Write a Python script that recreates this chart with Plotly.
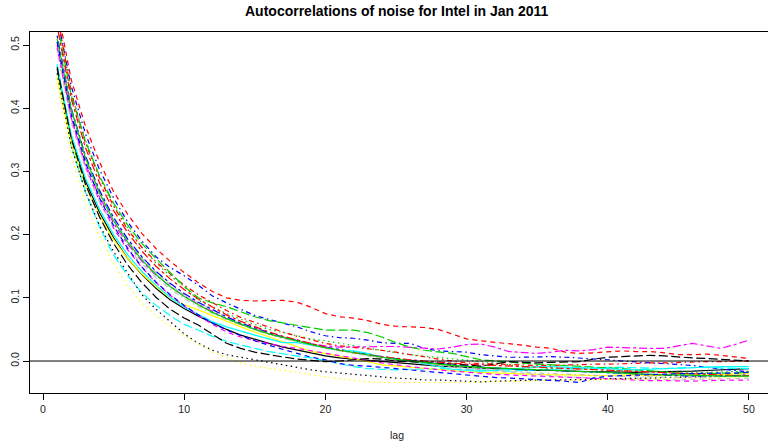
import plotly.graph_objects as go

lags = list(range(1, 51))

series_colors = ["#000000", "#FF0000", "#00CD00", "#0000FF", "#00FFFF", "#FF00FF", "#FFFF00", "#BEBEBE"]
series_dashes = ["solid", "5px,4px", "1.5px,3.5px", "1.5px,3.5px,5px,3.5px", "9px,3.5px", "3px,3px,8px,3px"]

s00 = [.462,.355,.285,.235,.195,.162,.137,.115,.097,.083,
       .071,.060,.050,.041,.034,.028,.022,.017,.012,.008,
       .005,.003,.001,-.001,-.003,-.004,-.006,-.008,-.009,-.010,
       -.012,-.013,-.013,-.014,-.015,-.015,-.016,-.016,-.017,-.017,
       -.018,-.018,-.017,-.017,-.016,-.016,-.015,-.014,-.013,-.012]
s01 = [.560,.445,.372,.315,.268,.232,.202,.178,.158,.140,
       .124,.110,.100,.096,.095,.095,.096,.093,.085,.075,
       .070,.068,.064,.058,.055,.054,.053,.050,.042,.035,
       .032,.030,.027,.025,.022,.020,.014,.012,.013,.015,
       .016,.015,.015,.013,.010,.010,.011,.009,.006,.004]
s02 = [.540,.425,.350,.292,.247,.210,.180,.155,.135,.118,
       .096,.085,.075,.066,.058,.050,.045,.040,.035,.032,
       .028,.024,.020,.016,.013,.010,.008,.006,.004,.002,
       .000,-.003,-.006,-.008,-.010,-.012,-.012,-.013,-.014,-.015,
       -.015,-.016,-.016,-.017,-.017,-.018,-.018,-.017,-.017,-.016]
s03 = [.545,.435,.360,.303,.258,.220,.190,.165,.148,.135,
       .120,.103,.092,.082,.072,.066,.060,.054,.046,.040,
       .037,.036,.033,.029,.028,.028,.020,.016,.015,.014,
       .010,.008,.006,.006,.007,.007,.006,.005,.003,.002,
       .000,-.002,-.003,-.004,-.005,-.007,-.010,-.013,-.015,-.017]
s04 = [.470,.340,.268,.212,.168,.135,.108,.088,.072,.058,
       .049,.039,.031,.025,.020,.015,.011,.008,.005,.001,
       -.004,-.009,-.012,-.013,-.014,-.013,-.012,-.012,-.013,-.014,
       -.015,-.016,-.016,-.015,-.014,-.013,-.012,-.012,-.011,-.010,
       -.010,-.011,-.011,-.012,-.011,-.010,-.010,-.011,-.012,-.012]
s05 = [.495,.385,.312,.260,.218,.185,.158,.136,.118,.103,
       .090,.078,.067,.058,.050,.043,.037,.032,.027,.024,
       .022,.022,.023,.023,.023,.022,.020,.019,.022,.026,
       .027,.022,.015,.013,.012,.014,.017,.016,.018,.022,
       .021,.020,.020,.020,.024,.028,.024,.020,.026,.033]
s06 = [.450,.345,.278,.230,.192,.162,.138,.118,.100,.089,
       .081,.072,.062,.054,.046,.038,.030,.022,.015,.012,
       .008,.004,-.001,-.006,-.008,-.009,-.012,-.014,-.015,-.017,
       -.018,-.019,-.020,-.021,-.022,-.022,-.022,-.023,-.023,-.023,
       -.022,-.022,-.023,-.023,-.022,-.022,-.022,-.021,-.021,-.020]
s07 = [.505,.395,.320,.266,.223,.190,.163,.140,.121,.105,
       .092,.080,.069,.060,.052,.045,.039,.033,.027,.022,
       .017,.012,.008,.004,.001,-.002,-.005,-.008,-.010,-.012,
       -.014,-.016,-.018,-.020,-.022,-.024,-.025,-.026,-.027,-.028,
       -.028,-.028,-.029,-.030,-.030,-.029,-.029,-.028,-.028,-.027]
s08 = [.455,.340,.268,.215,.173,.138,.105,.082,.062,.043,
       .028,.017,.010,.006,.002,-.003,-.007,-.011,-.014,-.017,
       -.019,-.021,-.024,-.025,-.027,-.028,-.030,-.030,-.031,-.032,
       -.033,-.032,-.031,-.031,-.030,-.030,-.030,-.029,-.029,-.028,
       -.028,-.027,-.027,-.026,-.026,-.025,-.025,-.024,-.024,-.023]
s09 = [.550,.425,.345,.290,.245,.208,.180,.157,.138,.120,
       .105,.092,.080,.069,.061,.054,.046,.039,.033,.028,
       .024,.022,.019,.017,.014,.010,.006,.003,.000,-.003,
       -.004,-.005,-.006,-.006,-.007,-.007,-.006,-.006,-.005,-.005,
       -.004,-.004,-.003,-.003,-.002,-.002,-.001,-.001,.000,.000]
s10 = [.535,.420,.348,.293,.250,.215,.186,.162,.140,.118,
       .100,.092,.086,.078,.070,.064,.060,.056,.052,.049,
       .049,.049,.045,.038,.029,.022,.017,.014,.012,.007,
       .002,.000,-.002,-.004,-.005,-.006,-.007,-.008,-.009,-.010,
       -.012,-.014,-.016,-.018,-.019,-.020,-.020,-.020,-.019,-.018]
s11 = [.515,.400,.325,.270,.227,.193,.165,.142,.123,.107,
       .093,.081,.070,.060,.052,.045,.038,.032,.027,.022,
       .018,.014,.010,.007,.004,.001,-.002,-.004,-.006,-.008,
       -.010,-.011,-.012,-.013,-.014,-.015,-.016,-.017,-.018,-.019,
       -.020,-.021,-.022,-.023,-.024,-.024,-.024,-.024,-.023,-.022]
s12 = [.468,.358,.290,.240,.200,.168,.142,.120,.101,.085,
       .074,.062,.054,.047,.041,.035,.029,.029,.025,.021,
       .017,.016,.012,.006,.002,.000,-.004,-.009,-.013,-.015,
       -.016,-.015,-.013,-.011,-.009,-.009,-.010,-.011,-.012,-.013,
       -.014,-.014,-.013,-.012,-.011,-.010,-.010,-.009,-.009,-.009]
s13 = [.500,.385,.308,.253,.210,.176,.148,.124,.104,.087,
       .072,.058,.046,.038,.032,.027,.023,.020,.016,.012,
       .008,.004,.000,-.003,-.006,-.009,-.012,-.014,-.016,-.018,
       -.020,-.021,-.022,-.023,-.024,-.025,-.026,-.027,-.028,-.029,
       -.030,-.030,-.031,-.031,-.032,-.032,-.031,-.031,-.030,-.030]
s14 = [.440,.325,.250,.197,.155,.118,.092,.072,.055,.040,
       .027,.014,.006,-.003,-.008,-.012,-.015,-.018,-.022,-.025,
       -.028,-.031,-.033,-.034,-.034,-.035,-.035,-.035,-.034,-.034,
       -.033,-.033,-.032,-.032,-.031,-.031,-.030,-.030,-.030,-.029,
       -.029,-.029,-.028,-.028,-.028,-.027,-.027,-.027,-.026,-.026]
s15 = [.490,.378,.305,.252,.212,.180,.154,.132,.114,.099,
       .086,.075,.065,.057,.049,.042,.036,.030,.025,.020,
       .016,.012,.008,.005,.002,-.001,-.004,-.006,-.008,-.010,
       -.012,-.014,-.016,-.017,-.019,-.020,-.021,-.022,-.023,-.024,
       -.024,-.025,-.025,-.026,-.026,-.026,-.025,-.025,-.024,-.024]
s16 = [.465,.352,.280,.228,.186,.152,.124,.101,.082,.068,
       .057,.042,.028,.020,.014,.010,.006,.003,.001,-.001,
       .000,.002,.004,.003,.000,-.001,-.002,-.003,-.004,-.006,
       -.008,-.005,-.001,-.002,-.003,-.002,-.001,-.001,.003,.006,
       .007,.008,.009,.008,.006,.005,.004,.003,.001,.000]
s17 = [.530,.415,.338,.282,.238,.203,.174,.150,.130,.113,
       .098,.085,.073,.063,.054,.046,.039,.033,.027,.022,
       .017,.013,.010,.007,.004,.002,.000,-.002,-.004,-.005,
       -.006,-.007,-.008,-.009,-.010,-.011,-.012,-.013,-.014,-.015,
       -.016,-.017,-.018,-.019,-.020,-.021,-.022,-.022,-.023,-.023]
s18 = [.510,.398,.322,.266,.222,.188,.160,.137,.118,.102,
       .089,.077,.067,.058,.050,.043,.037,.031,.026,.021,
       .017,.013,.009,.006,.003,.000,-.003,-.005,-.007,-.009,
       -.010,-.011,-.012,-.013,-.014,-.015,-.016,-.017,-.018,-.018,
       -.019,-.020,-.021,-.022,-.022,-.023,-.023,-.024,-.024,-.024]
s19 = [.505,.390,.315,.258,.214,.178,.149,.125,.105,.088,
       .073,.060,.049,.040,.032,.025,.018,.012,.006,.002,
       -.004,-.007,-.008,-.010,-.012,-.014,-.016,-.018,-.020,-.022,
       -.025,-.026,-.027,-.028,-.029,-.030,-.032,-.034,-.027,-.024,
       -.023,-.022,-.021,-.021,-.020,-.020,-.019,-.019,-.019,-.018]

all_series = [s00, s01, s02, s03, s04, s05, s06, s07, s08, s09,
              s10, s11, s12, s13, s14, s15, s16, s17, s18, s19]

x_ticks = [0, 10, 20, 30, 40, 50]
y_ticks = [0.0, 0.1, 0.2, 0.3, 0.4, 0.5]
y_tick_text = ["0.0", "0.1", "0.2", "0.3", "0.4", "0.5"]

FONT = "Liberation Sans, Arial, Helvetica, sans-serif"

fig = go.Figure()
for i, s in enumerate(all_series):
    fig.add_trace(go.Scatter(
        x=lags, y=s, mode="lines",
        line=dict(color=series_colors[i % 8], dash=series_dashes[i % 6], width=1.2),
        showlegend=False, hoverinfo="skip"))

fig.add_hline(y=0, line=dict(color="black", width=1))

fig.update_layout(
    width=768, height=444,
    margin=dict(l=30, r=0, t=32, b=51),
    paper_bgcolor="white", plot_bgcolor="white",
    font=dict(family=FONT, size=11, color="black"),
    showlegend=False,
    xaxis=dict(range=[-0.921, 51.35], tickvals=x_ticks, ticks="outside", ticklen=6,
               tickcolor="black", showline=True, linecolor="black", linewidth=1,
               mirror=True, showgrid=False, zeroline=False,
               tickfont=dict(size=10.5, family=FONT, color="#222222")),
    yaxis=dict(range=[-0.0506, 0.5206], tickvals=y_ticks, ticktext=y_tick_text,
               ticks="outside", ticklen=6, tickcolor="black", showline=True,
               linecolor="black", linewidth=1, mirror=False, showgrid=False,
               zeroline=False, tickangle=-90,
               tickfont=dict(size=10.5, family=FONT, color="#222222")),
    annotations=[
        dict(text="<b>Autocorrelations of noise for Intel in Jan 2011</b>",
             x=397, y=10, xref="paper", yref="paper", showarrow=False,
             font=dict(size=14, family=FONT, color="black")),
        dict(text="lag", x=0.5, y=0, showarrow=False,
             font=dict(size=10.5, family=FONT, color="#222222")),
    ],
)
# position annotations in pixel-like terms via paper coords
W, H = 768, 444
pl, pr, pt, pb = 30, 0, 32, 51
pw, ph = W - pl - pr, H - pt - pb
def px_to_paper(px, py):
    return (px - pl) / pw, (H - pb - py) / ph

tx, ty = px_to_paper(397, 11)
lx, ly = px_to_paper(397, 435)
fig.layout.annotations[0].update(x=tx, y=ty, xanchor="center", yanchor="middle")
fig.layout.annotations[1].update(x=lx, y=ly, xref="paper", yref="paper", xanchor="center", yanchor="middle")

fig.write_html("out.html")
